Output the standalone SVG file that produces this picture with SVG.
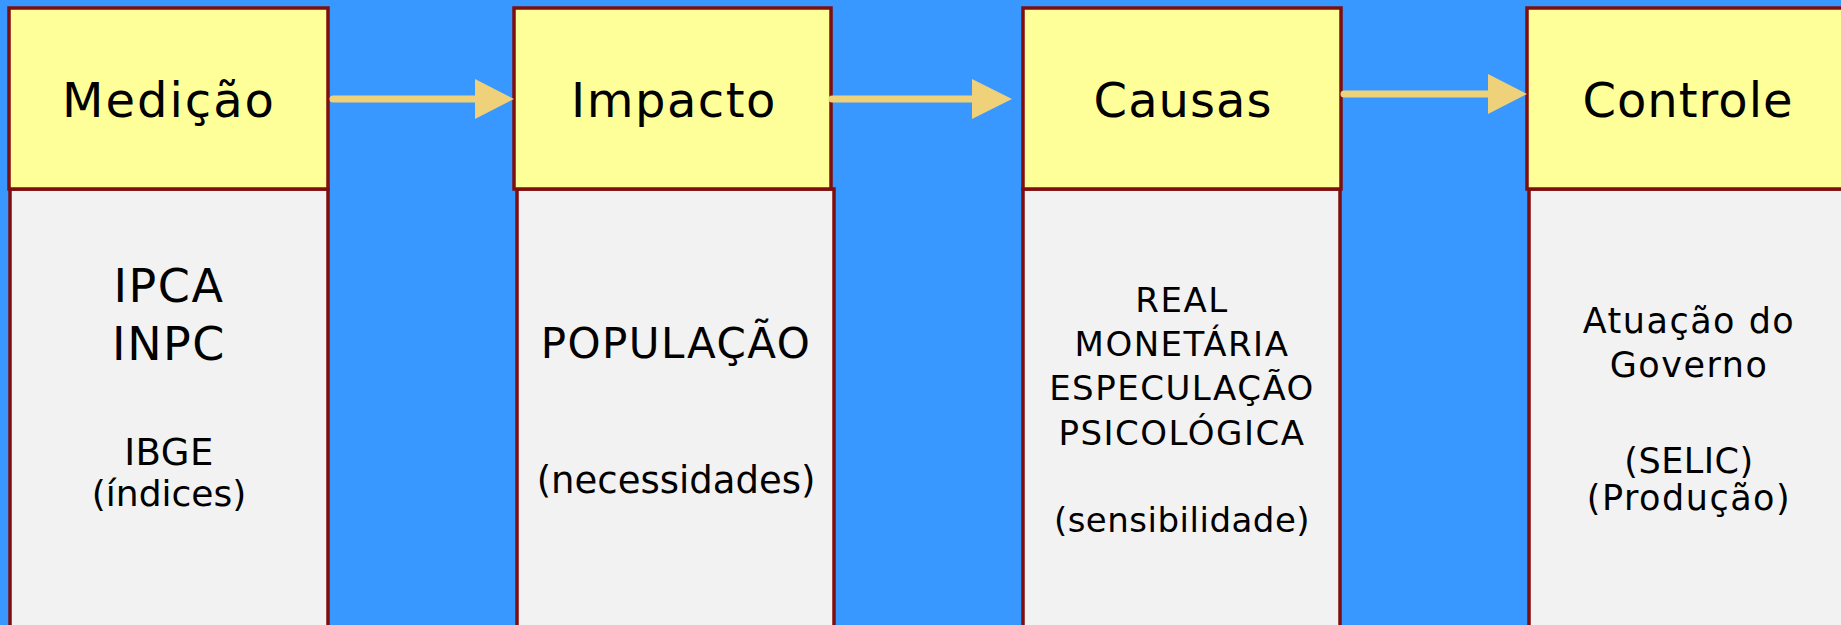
<svg xmlns="http://www.w3.org/2000/svg" width="1841" height="625" viewBox="0 0 1841 625">
<style>
.hdr{fill:#FFFF99;stroke:#7F0E0E;stroke-width:3.5}
.body{fill:#F2F2F2;stroke:#7F0E0E;stroke-width:3.5}
text{font-family:"DejaVu Sans","Liberation Sans",sans-serif;fill:#000;text-anchor:middle;letter-spacing:1.5px}
.h{font-size:48px;letter-spacing:2px}
.t{letter-spacing:0.5px}
.z{letter-spacing:0}
.ln{stroke:#EFD17A;stroke-width:7;stroke-linecap:round;fill:none}
.hd{fill:#EFD17A}
</style>
<rect x="0" y="0" width="1841" height="625" fill="#3898FF"/>
<g id="medicao">
<rect class="body" x="10" y="189" width="318" height="460"/>
<rect class="hdr" x="9" y="8" width="319" height="181"/>
<text class="h" x="169" y="117">Medição</text>
<text x="169" y="302" font-size="46">IPCA</text>
<text x="169" y="360" font-size="46">INPC</text>
<text class="t" x="169" y="465" font-size="37">IBGE</text>
<text class="z" x="169" y="506" font-size="36">(índices)</text>
</g>
<g id="impacto">
<rect class="body" x="517" y="189" width="317" height="460"/>
<rect class="hdr" x="514" y="8" width="317" height="181"/>
<text class="h" x="674" y="117" style="letter-spacing:1.5px">Impacto</text>
<text x="676" y="358" font-size="42">POPULAÇÃO</text>
<text class="z" x="676" y="493" font-size="37">(necessidades)</text>
</g>
<g id="causas">
<rect class="body" x="1023" y="189" width="317" height="460"/>
<rect class="hdr" x="1023" y="8" width="318" height="181"/>
<text class="h" x="1183" y="117" style="letter-spacing:1px">Causas</text>
<text x="1182" y="312" font-size="34">REAL</text>
<text x="1182" y="356" font-size="34">MONETÁRIA</text>
<text x="1182" y="400" font-size="34">ESPECULAÇÃO</text>
<text x="1182" y="445" font-size="34">PSICOLÓGICA</text>
<text class="t" x="1182" y="532" font-size="34">(sensibilidade)</text>
</g>
<g id="controle">
<rect class="body" x="1529" y="189" width="330" height="460"/>
<rect class="hdr" x="1527" y="8" width="330" height="181"/>
<text class="h" x="1688" y="117" style="letter-spacing:1px">Controle</text>
<text x="1689" y="333" font-size="35">Atuação do</text>
<text x="1689" y="377" font-size="35">Governo</text>
<text class="t" x="1689" y="473" font-size="35">(SELIC)</text>
<text x="1689" y="510" font-size="35">(Produção)</text>
</g>
<g id="connectors">
<line class="ln" x1="333" y1="99" x2="477" y2="99"/>
<polygon class="hd" points="475,79 514,99 475,119"/>
<line class="ln" x1="832" y1="99" x2="974" y2="99"/>
<polygon class="hd" points="972,79 1012,99 972,119"/>
<line class="ln" x1="1344" y1="94" x2="1490" y2="94"/>
<polygon class="hd" points="1488,74 1527,94 1488,114"/>
</g>
</svg>
